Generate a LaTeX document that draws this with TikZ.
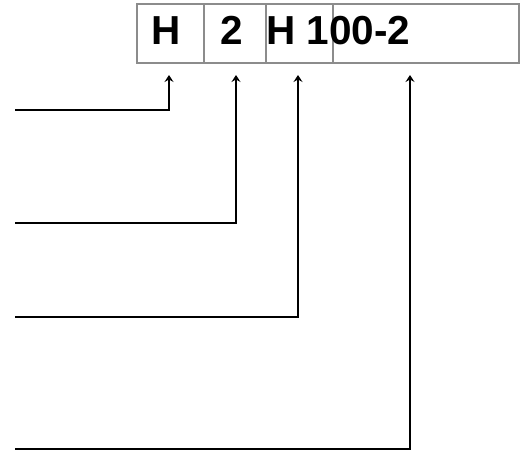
\documentclass[tikz,border=0pt]{standalone}
\usepackage{fontspec}
\setmainfont{Liberation Sans}
\usetikzlibrary{arrows.meta}
\begin{document}
\begin{tikzpicture}[x=1pt,y=-1pt,
  cellbox/.style={draw=black!45,line width=2pt},
  code/.style={font=\fontsize{40.5}{40.5}\selectfont\bfseries,inner sep=0pt,anchor=base west},
  pointer/.style={line width=2.5pt,-{Stealth[length=7pt,width=9pt,inset=2.5pt]}}]
\useasboundingbox (0,0) rectangle (524,452);
% the four cells of the code
\draw[cellbox] (137,4) rectangle (519,63);
\draw[cellbox] (204,4) -- (204,63);
\draw[cellbox] (266,4) -- (266,63);
\draw[cellbox] (333,4) -- (333,63);
\node[code] (t1) at (151,45) {H};
\node[code] (t2) at (220.5,45) {2};
\node[code] (t3) at (266,45) {H 100-2};
% arrow targets below the cells
\coordinate (a1) at (169,75);
\coordinate (a2) at (236,75);
\coordinate (a3) at (298,75);
\coordinate (a4) at (410,75);
% free ends of the leaders on the left
\coordinate (s1) at (15,110);
\coordinate (s2) at (15,223);
\coordinate (s3) at (15,317);
\coordinate (s4) at (15,449);
\draw[pointer] (s1) -| (a1);
\draw[pointer] (s2) -| (a2);
\draw[pointer] (s3) -| (a3);
\draw[pointer] (s4) -| (a4);
\end{tikzpicture}
\end{document}
